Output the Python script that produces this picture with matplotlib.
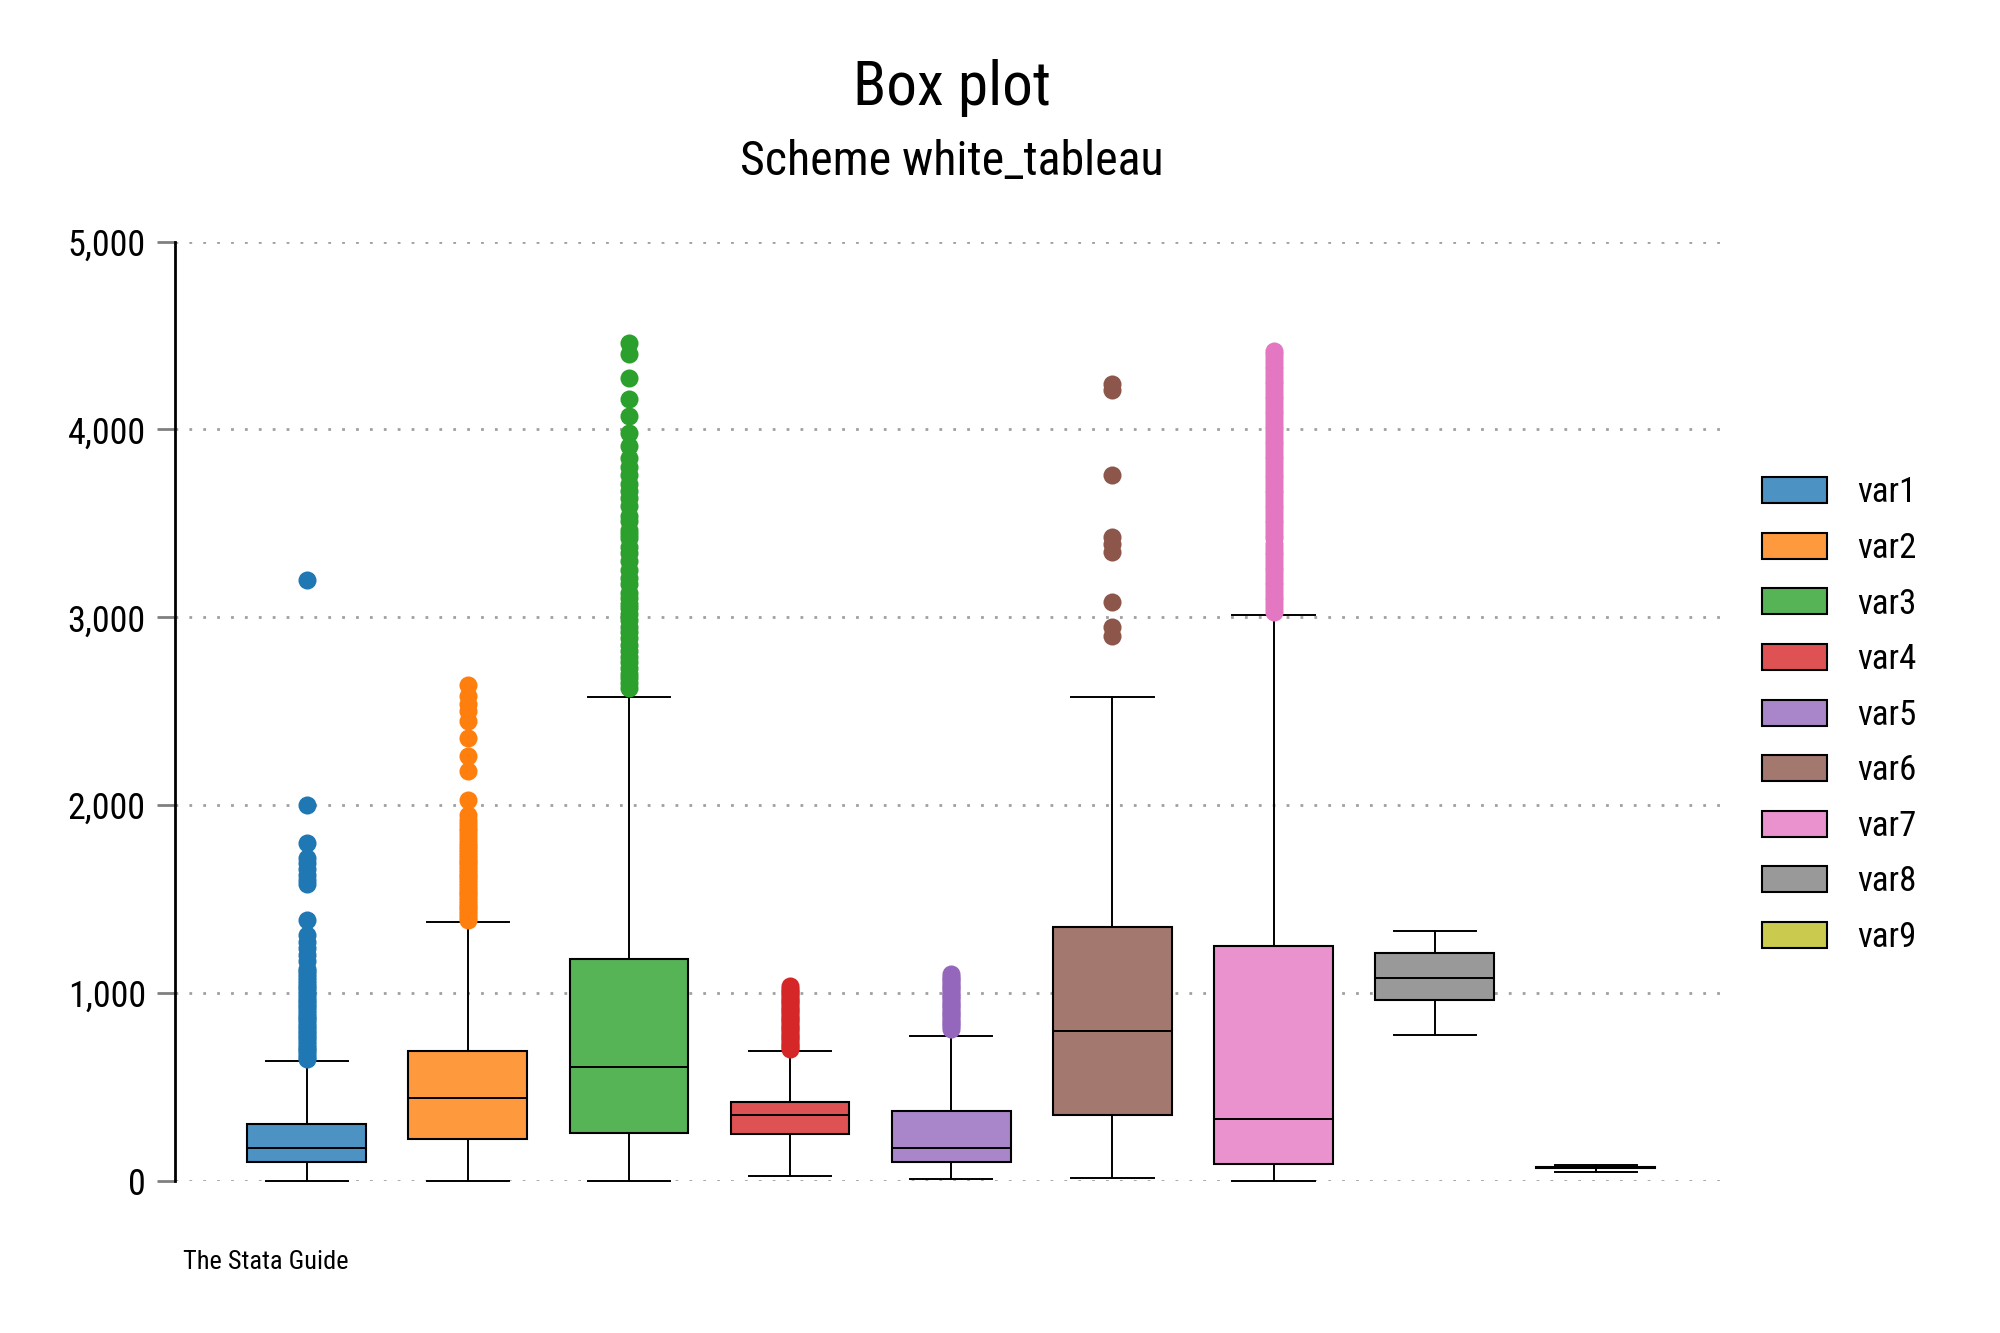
import matplotlib
matplotlib.use("Agg")
import matplotlib.pyplot as plt
from matplotlib.patches import Patch
from matplotlib.colors import to_rgba

plt.rcParams['font.family'] = ['Roboto Condensed', 'Liberation Sans Narrow',
                               'Liberation Sans', 'DejaVu Sans']

# box plot data
labels = ["var1", "var2", "var3", "var4", "var5", "var6", "var7", "var8", "var9"]
whislo = [0, 0, 0, 24, 12, 15, 0, 779, 49]
q1 = [98, 223, 253, 250, 101, 351, 92, 962, 67]
med = [177, 443, 608, 351, 177, 800, 327, 1081, 70]
q3 = [305, 690, 1182, 418, 373, 1350, 1252, 1215, 73]
whishi = [638, 1380, 2574, 693, 769, 2574, 3014, 1331, 85]

out1 = [650, 662, 675, 690, 702, 715, 730, 745, 758, 770, 785, 800, 812, 826,
        840, 855, 868, 880, 895, 910, 925, 938, 950, 965, 980, 995, 1010, 1025,
        1040, 1055, 1070, 1085, 1100, 1115, 1130, 1170, 1200, 1240, 1270, 1310,
        1390, 1580, 1600, 1630, 1660, 1690, 1720, 1800, 2000, 3200]
out2 = [1390, 1405, 1420, 1435, 1450, 1465, 1480, 1495, 1510, 1525, 1540, 1555,
        1570, 1585, 1600, 1615, 1630, 1645, 1660, 1675, 1690, 1705, 1720, 1735,
        1750, 1765, 1780, 1800, 1820, 1840, 1860, 1880, 1900, 1920, 1945, 2030,
        2180, 2260, 2360, 2450, 2500, 2540, 2580, 2640]
out3 = [2625, 2650, 2675, 2700, 2730, 2760, 2790, 2820, 2855, 2890, 2920, 2950,
        2985, 3020, 3050, 3070, 3100, 3130, 3175, 3210, 3250, 3300, 3340, 3375,
        3420, 3445, 3465, 3510, 3540, 3590, 3635, 3670, 3710, 3760, 3800, 3850,
        3910, 3980, 4070, 4160, 4275, 4400, 4460]
out4 = [700, 712, 724, 736, 748, 760, 772, 784, 796, 808, 820, 832, 844, 856,
        868, 880, 892, 904, 916, 928, 940, 952, 964, 976, 988, 1000, 1012, 1024,
        1040]
out5 = [810, 822, 834, 846, 858, 870, 882, 894, 906, 918, 930, 942, 954, 966,
        978, 990, 1002, 1014, 1026, 1038, 1050, 1062, 1074, 1086, 1100]
out6 = [2900, 2950, 3080, 3350, 3390, 3430, 3760, 4210, 4240]
out7 = [3030, 3050, 3070, 3090, 3110, 3130, 3150, 3170, 3190, 3210, 3230, 3250,
        3270, 3290, 3310, 3330, 3350, 3370, 3390, 3420, 3440, 3460, 3480, 3500,
        3520, 3540, 3560, 3580, 3600, 3620, 3640, 3660, 3680, 3700, 3720, 3740,
        3760, 3780, 3800, 3820, 3840, 3860, 3880, 3900, 3920, 3940, 3960, 3980,
        4000, 4020, 4040, 4060, 4080, 4100, 4120, 4140, 4160, 4180, 4200, 4220,
        4240, 4260, 4280, 4300, 4320, 4340, 4360, 4380, 4400, 4420]
out8 = []
out9 = []
outliers = [out1, out2, out3, out4, out5, out6, out7, out8, out9]

yticks = [0, 1000, 2000, 3000, 4000, 5000]
ytick_labels = ["0", "1,000", "2,000", "3,000", "4,000", "5,000"]

colors = ["#1f77b4", "#ff7f0e", "#2ca02c", "#d62728", "#9467bd",
          "#8c564b", "#e377c2", "#7f7f7f", "#bcbd22"]


def fill(c):
    # tableau colour at 80% over white
    r, g, b, _ = to_rgba(c)
    return (0.8 * r + 0.2, 0.8 * g + 0.2, 0.8 * b + 0.2)


stats = []
for i in range(len(labels)):
    stats.append(dict(label=labels[i], whislo=whislo[i], q1=q1[i], med=med[i],
                      q3=q3[i], whishi=whishi[i], fliers=outliers[i]))

fig = plt.figure(figsize=(20, 13.33), dpi=100)
ax = fig.add_axes([0.0875, 0.1141, 0.7765, 0.7047])

positions = list(range(1, len(labels) + 1))
bp = ax.bxp(stats, positions=positions, widths=0.737, capwidths=0.51,
            patch_artist=True, showfliers=True,
            boxprops=dict(edgecolor="black", linewidth=1.5),
            medianprops=dict(color="black", linewidth=1.4),
            whiskerprops=dict(color="black", linewidth=1.4),
            capprops=dict(color="black", linewidth=1.4))

for i, c in enumerate(colors):
    bp["boxes"][i].set_facecolor(fill(c))
    bp["fliers"][i].set(marker="o", markerfacecolor=c, markeredgewidth=0,
                        markersize=13)
for key in bp:
    for art in bp[key]:
        art.set_clip_on(False)
for art in bp["boxes"]:
    art.set_zorder(3)
for art in bp["medians"]:
    art.set_zorder(4)

ax.set_xlim(0.183, 9.82)
ax.set_ylim(0, 5000)
ax.set_yticks(yticks)
ax.set_yticklabels(ytick_labels, fontsize=26)
ax.set_xticks([])
ax.tick_params(axis="y", length=13, width=2, color="#808080", pad=8)
ax.grid(axis="y", color="#a0a0a0", linestyle=(0, (1, 4)), linewidth=2)
ax.set_axisbelow(True)
for side in ["top", "right", "bottom"]:
    ax.spines[side].set_visible(False)
ax.spines["left"].set_linewidth(2)

handles = [Patch(facecolor=fill(c), edgecolor="black", linewidth=1.5) for c in colors]
fig.legend(handles, labels, loc="center left", bbox_to_anchor=(0.881, 0.4635),
           frameon=False, fontsize=25, handlelength=1.87, handleheight=0.77,
           handletextpad=0.86, labelspacing=0.65, borderpad=0, borderaxespad=0)

fig.text(0.476, 1 - 88 / 1333, "Box plot", ha="center", va="center", fontsize=44)
fig.text(0.476, 1 - 162 / 1333, "Scheme white_tableau", ha="center", va="center",
         fontsize=34.5)
fig.text(183 / 2000, 1 - 1262 / 1333, "The Stata Guide", ha="left", va="center",
         fontsize=19)

fig.savefig("out.png", dpi=100, facecolor="white")
